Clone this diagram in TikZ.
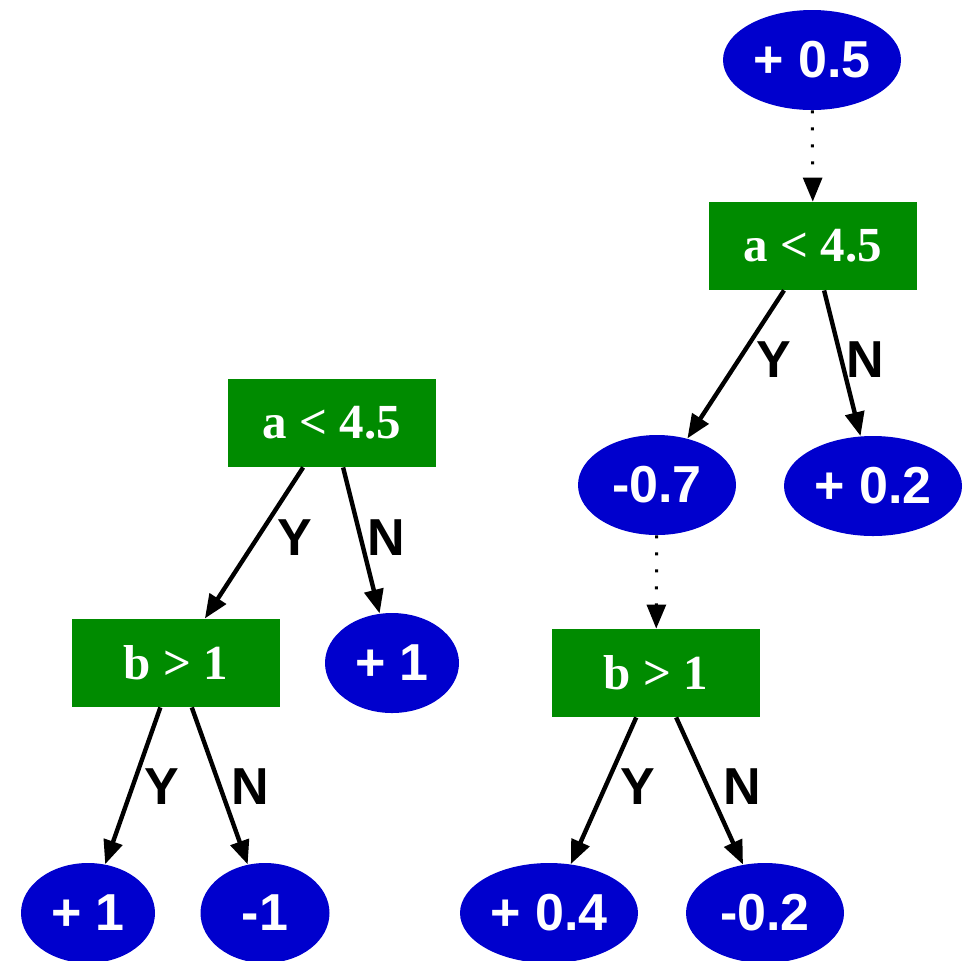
\documentclass[tikz,border=0pt]{standalone}
\usepackage{fontspec}
\setmainfont{Liberation Serif}
\setsansfont{Liberation Sans}
\usetikzlibrary{arrows.meta, shapes.geometric}

\definecolor{leafblue}{HTML}{0000CD}
\definecolor{splitgreen}{HTML}{008B00}

\begin{document}
\begin{tikzpicture}[
    x=0.5pt, y=-0.5pt,
    split/.style={rectangle, fill=splitgreen, text=white, inner sep=0pt,
        minimum width=104pt, minimum height=44pt,
        font=\fontsize{24.5}{29}\selectfont\bfseries},
    leaf/.style={ellipse, fill=leafblue, text=white, inner sep=0pt,
        minimum width=#1, minimum height=50pt,
        font=\fontsize{26}{31}\selectfont\sffamily\bfseries},
    leaf/.default=89pt,
    lbl/.style={inner sep=0pt, font=\fontsize{26}{31}\selectfont\sffamily\bfseries},
    arr/.style={-{Triangle[length=12pt, width=9.5pt]}, line width=2.2pt},
    dots/.style={-{Triangle[length=12pt, width=9.5pt]}, line width=1.5pt,
        dash pattern=on 1.5pt off 7pt},
]
\useasboundingbox (0,0) rectangle (967,960);

% left tree
\node[split] (la) at (332,423) {a < 4.5};
\node[split] (lb) at (176,663) {b > 1};
\node[leaf=67pt] (lp1) at (392,663) {+ 1};
\node[leaf=67pt] (lp2) at (88,913) {+ 1};
\node[leaf=64.5pt] (lm1) at (265,913) {-1};

\draw[arr] (la) -- (lb);
\draw[arr] (la) -- (lp1);
\draw[arr] (lb) -- (lp2);
\draw[arr] (lb) -- (lm1);

\node[lbl] (lay) at (295,538) {Y};
\node[lbl] (lan) at (386,538) {N};
\node[lbl] (lby) at (162,787) {Y};
\node[lbl] (lbn) at (250,787) {N};

% right tree
\node[leaf] (rr) at (812,60) {+ 0.5};
\node[split] (ra) at (813,246) {a < 4.5};
\node[leaf=79pt] (rm7) at (657,485) {-0.7};
\node[leaf] (rp2) at (873,486) {+ 0.2};
\node[split] (rb) at (656,673) {b > 1};
\node[leaf] (rp4) at (549,913) {+ 0.4};
\node[leaf=79pt] (rm2) at (765,913) {-0.2};

\draw[dots] (rr) -- (ra);
\draw[arr] (ra) -- (rm7);
\draw[arr] (ra) -- (rp2);
\draw[dots] (rm7) -- (rb);
\draw[arr] (rb) -- (rp4);
\draw[arr] (rb) -- (rm2);

\node[lbl] (ray) at (774,360) {Y};
\node[lbl] (ran) at (865,360) {N};
\node[lbl] (rby) at (638,787) {Y};
\node[lbl] (rbn) at (742,787) {N};

\end{tikzpicture}
\end{document}
